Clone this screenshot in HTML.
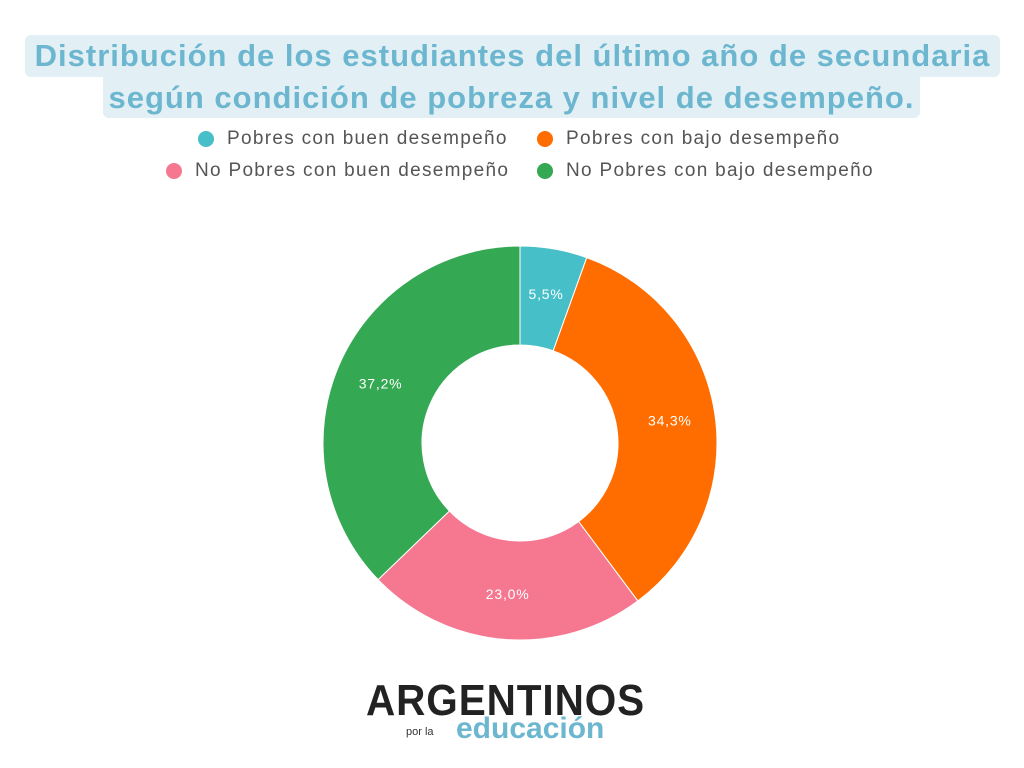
<!DOCTYPE html>
<html><head><meta charset="utf-8"><style>
body{margin:0;width:1024px;height:768px;background:#fff;position:relative;overflow:hidden;font-family:"Liberation Sans",sans-serif}
.t{position:absolute;background:#e2f0f5;color:#6cb6cf;font-weight:bold;font-size:31px;letter-spacing:1px;border-radius:6px;text-align:center;line-height:42px;white-space:nowrap}
.lg{position:absolute;font-size:19px;letter-spacing:1.3px;color:#555;white-space:nowrap;line-height:20px}
.dot{position:absolute;width:16px;height:16px;border-radius:50%}
</style></head><body>
<div class="t" style="left:25px;top:35px;width:975px;height:42px">Distribución de los estudiantes del último año de secundaria</div>
<div class="t" style="left:103px;top:77px;width:817px;height:41px;border-radius:0 0 6px 6px">según condición de pobreza y nivel de desempeño.</div>
<div>
<div class="dot" style="left:198px;top:131px;background:#47bfc9"></div>
<div class="lg" style="left:227px;top:129px">Pobres con buen desempeño</div>
<div class="dot" style="left:537px;top:131px;background:#ff6d00"></div>
<div class="lg" style="left:566px;top:129px">Pobres con bajo desempeño</div>
<div class="dot" style="left:166px;top:163px;background:#f57890"></div>
<div class="lg" style="left:195px;top:161px">No Pobres con buen desempeño</div>
<div class="dot" style="left:537px;top:163px;background:#34a853"></div>
<div class="lg" style="left:566px;top:161px">No Pobres con bajo desempeño</div>
</div>
<svg id="chart" width="1024" height="768" style="position:absolute;left:0;top:0"></svg>
<div style="position:absolute;left:366px;top:676px;width:300px;height:70px">
<div style="position:absolute;left:0;top:0;font-size:44px;font-weight:bold;color:#222;letter-spacing:1px;font-family:'Liberation Sans',sans-serif;transform:scaleX(0.92);transform-origin:left">ARGENTINOS</div>
<div style="position:absolute;left:40px;top:50px;font-size:11px;color:#333">por la</div>
<div style="position:absolute;left:90px;top:36px;font-size:30px;font-weight:bold;color:#6cb6cf">educación</div>
</div>
<script>
const labels=["Pobres con buen desempeño","Pobres con bajo desempeño","No Pobres con buen desempeño","No Pobres con bajo desempeño"];
const values=[5.5,34.3,23.0,37.2];
const valueLabels=["5,5%","34,3%","23,0%","37,2%"];
const colors=["#47bfc9","#ff6d00","#f57890","#34a853"];
const svg=document.getElementById('chart');const NS="http://www.w3.org/2000/svg";
const cx=520,cy=443,R=197,r=98;
const total=values.reduce((a,b)=>a+b,0);
function pt(a,rad){return [cx+rad*Math.sin(a),cy-rad*Math.cos(a)];}
let acc=0;
values.forEach((v,i)=>{
const a0=acc/total*2*Math.PI;acc+=v;const a1=acc/total*2*Math.PI;
const lg=(a1-a0)>Math.PI?1:0;
const [x0,y0]=pt(a0,R),[x1,y1]=pt(a1,R),[x2,y2]=pt(a1,r),[x3,y3]=pt(a0,r);
const p=document.createElementNS(NS,'path');
p.setAttribute('d',`M${x0},${y0}A${R},${R} 0 ${lg} 1 ${x1},${y1}L${x2},${y2}A${r},${r} 0 ${lg} 0 ${x3},${y3}Z`);
p.setAttribute('fill',colors[i]);p.setAttribute('stroke','#fff');p.setAttribute('stroke-width','1');


svg.appendChild(p);
const am=(a0+a1)/2;const [tx,ty]=pt(am,(R+r)/2+4);
const t=document.createElementNS(NS,'text');
t.setAttribute('x',tx);t.setAttribute('y',ty+5);t.setAttribute('text-anchor','middle');
t.setAttribute('fill','#fff');t.setAttribute('font-size','14');t.setAttribute('letter-spacing','0.8');t.setAttribute('font-family','Liberation Sans, sans-serif');
t.textContent=valueLabels[i];


svg.appendChild(t);
});
</script>
</body></html>
